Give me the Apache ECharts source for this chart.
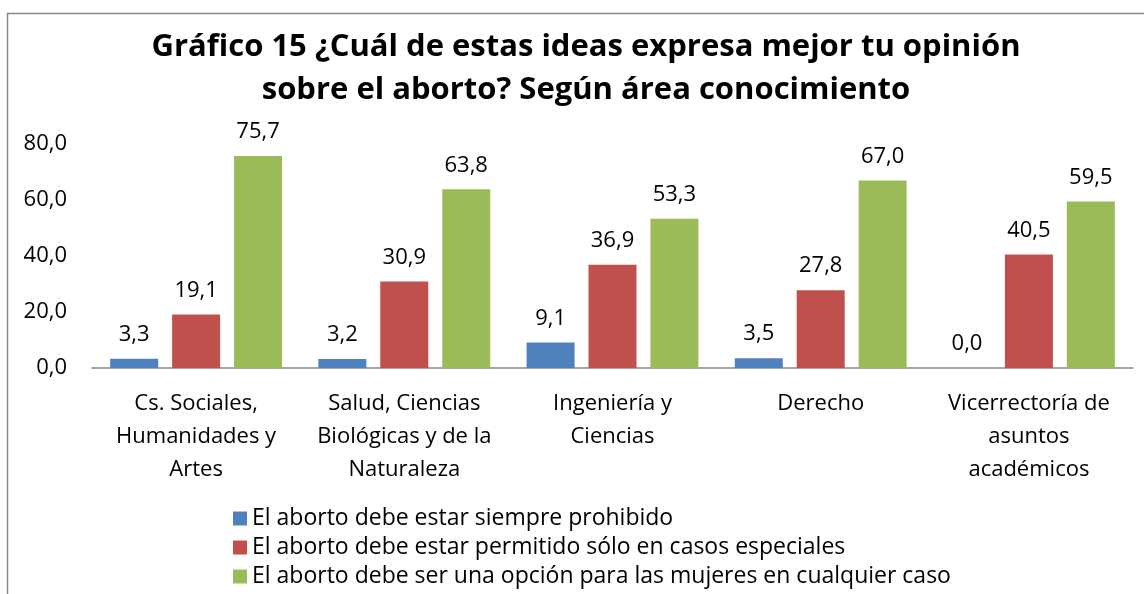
<!DOCTYPE html>
<html>
<head>
<meta charset="utf-8">
<script src="https://cdn.jsdelivr.net/npm/echarts@6/dist/echarts.min.js"></script>
<style>
  html, body { margin: 0; padding: 0; background: #fff; }
  #chart { width: 1144px; height: 594px; }
</style>
</head>
<body>
<div id="chart"></div>
<script>
const categories = [
  'Cs. Sociales,\nHumanidades y\nArtes',
  'Salud, Ciencias\nBiológicas y de la\nNaturaleza',
  'Ingeniería y\nCiencias',
  'Derecho',
  'Vicerrectoría de\nasuntos\nacadémicos'
];
const seriesNames = [
  'El aborto debe estar siempre prohibido',
  'El aborto debe estar permitido sólo en casos especiales',
  'El aborto debe ser una opción para las mujeres en cualquier caso'
];
const prohibido = [3.3, 3.2, 9.1, 3.5, 0.0];
const especiales = [19.1, 30.9, 36.9, 27.8, 40.5];
const opcion = [75.7, 63.8, 53.3, 67.0, 59.5];
const colors = ['#4F81BD', '#C0504D', '#9BBB59'];

const font = 'Open Sans';
const fs = 22;
const fmt = v => v.toFixed(1).replace('.', ',');

const chart = echarts.init(document.getElementById('chart'));

const mkSeries = (name, data, i) => ({
  name: name,
  type: 'bar',
  data: data,
  barWidth: 48,
  barGap: '29%',
  itemStyle: { color: colors[i] },
  label: {
    show: true,
    position: 'top',
    distance: 13,
    fontFamily: font,
    fontSize: fs,
    color: '#000',
    formatter: p => fmt(p.value)
  }
});

chart.setOption({
  animation: false,
  textStyle: { fontFamily: font },
  title: {
    text: 'Gráfico 15 ¿Cuál de estas ideas expresa mejor tu opinión\nsobre el aborto? Según área conocimiento',
    left: 581,
    textAlign: 'center',
    top: 21,
    textStyle: {
      fontFamily: font,
      fontSize: 31,
      fontWeight: 'bold',
      color: '#000',
      lineHeight: 43
    }
  },
  graphic: [{
    type: 'rect',
    shape: { x: 7.5, y: 13.5, width: 1200, height: 700 },
    style: { fill: 'none', stroke: '#888', lineWidth: 1.5 },
    silent: true
  }],
  legend: {
    orient: 'vertical',
    left: 228,
    top: 502,
    height: 150,
    itemWidth: 14,
    itemHeight: 14,
    itemGap: 6,
    icon: 'rect',
    data: seriesNames,
    textStyle: { fontFamily: font, fontSize: 23, color: '#000' }
  },
  grid: { left: 92, right: 11, top: 144, bottom: 226 },
  xAxis: {
    type: 'category',
    data: categories,
    axisLine: { lineStyle: { color: '#888', width: 1.5 } },
    axisTick: { show: false },
    axisLabel: {
      interval: 0,
      margin: 19,
      fontFamily: font,
      fontSize: fs,
      color: '#000',
      lineHeight: 33
    }
  },
  yAxis: {
    type: 'value',
    min: 0,
    max: 80,
    interval: 20,
    splitLine: { show: false },
    axisLine: { show: false },
    axisTick: { show: false },
    axisLabel: {
      margin: 25,
      fontFamily: font,
      fontSize: fs,
      color: '#000',
      formatter: v => fmt(v)
    }
  },
  series: [
    mkSeries(seriesNames[0], prohibido, 0),
    mkSeries(seriesNames[1], especiales, 1),
    mkSeries(seriesNames[2], opcion, 2)
  ]
});
</script>
</body>
</html>
